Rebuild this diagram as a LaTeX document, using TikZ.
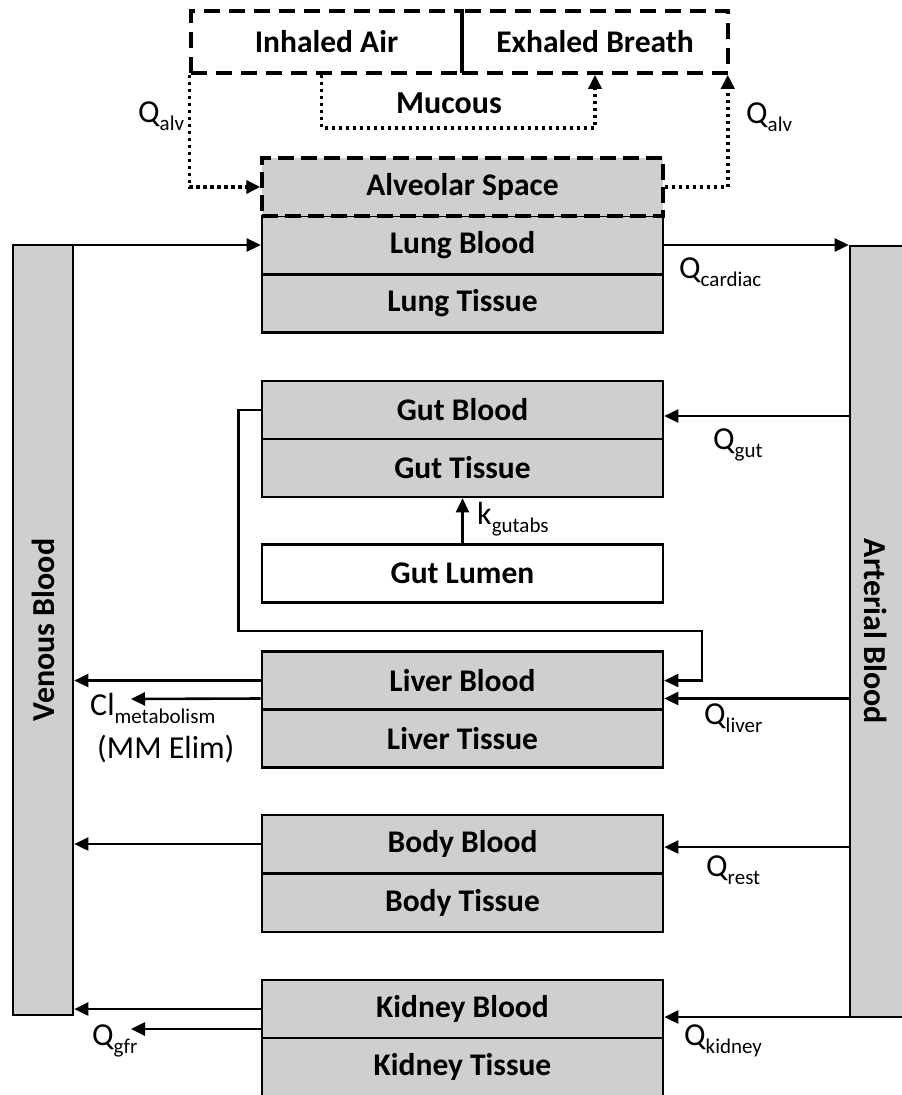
\documentclass[tikz,border=0pt]{standalone}
\usepackage{fontspec}
\setmainfont{Carlito}
\usetikzlibrary{arrows.meta}
\definecolor{boxgray}{RGB}{208,206,206}
\newcommand{\lowsub}[1]{\raisebox{-8pt}{\fontsize{21}{21}\selectfont #1}}

\begin{document}
\begin{tikzpicture}[x=1pt,y=-1pt,
    comp/.style={draw=black,line width=2.6pt,fill=boxgray,minimum width=401pt,minimum height=58pt,inner sep=0pt,font=\fontsize{31.5}{36}\selectfont\bfseries},
    lumen/.style={comp,fill=white},
    airbox/.style={draw=black,line width=3.5pt,dash pattern=on 16pt off 9pt,minimum height=62pt,inner sep=0pt,font=\fontsize{31.5}{36}\selectfont\bfseries},
    pool/.style={draw=black,line width=2.6pt,fill=boxgray,minimum width=60pt,inner sep=0pt},
    poollabel/.style={font=\fontsize{32}{36}\selectfont\bfseries,inner sep=0pt},
    flow/.style={line width=2.6pt,-{Triangle[length=14pt,width=13pt]}},
    airflow/.style={line width=3.5pt,dash pattern=on 3.5pt off 3.5pt,-{Triangle[length=14pt,width=13pt]}},
    lab/.style={font=\fontsize{32}{36}\selectfont,inner sep=0pt,anchor=base west}]
  \useasboundingbox (0,0) rectangle (902,1095);

  \node[airbox,minimum width=271pt] (inhaled) at (326.5,42) {Inhaled Air};
  \node[airbox,minimum width=266pt] (exhaled) at (595,42) {Exhaled Breath};

  \node[pool,minimum height=770pt] (venous) at (43,630) {};
  \node[poollabel,rotate=90] (venouslabel) at (43,630) {Venous Blood};
  \node[pool,minimum height=771pt] (arterial) at (880,631.5) {};
  \node[poollabel,rotate=-90] (arteriallabel) at (876,631.5) {Arterial Blood};

  \node[comp] (lungblood) at (462.5,245) {Lung Blood};
  \node[comp] (lungtissue) at (462.5,303.5) {Lung Tissue};
  \node[comp,draw=black,dash pattern=on 16pt off 7pt,line width=3.5pt] (alveolar) at (462.5,187) {Alveolar Space};
  \node[comp] (gutblood) at (462.5,410) {Gut Blood};
  \node[comp] (guttissue) at (462.5,468) {Gut Tissue};
  \node[lumen] (gutlumen) at (462.5,573.5) {Gut Lumen};
  \node[comp] (liverblood) at (462.5,680.5) {Liver Blood};
  \node[comp] (livertissue) at (462.5,738.5) {Liver Tissue};
  \node[comp] (bodyblood) at (462.5,844) {Body Blood};
  \node[comp] (bodytissue) at (462.5,903) {Body Tissue};
  \node[comp] (kidneyblood) at (462.5,1009) {Kidney Blood};
  \node[comp] (kidneytissue) at (462.5,1067) {Kidney Tissue};

  \draw[airflow] (inhaled.south west) |- (alveolar.west);
  \draw[airflow] (alveolar.east) -| ([xshift=-2pt]exhaled.south east);
  \draw[airflow] ([xshift=-5pt]inhaled.south) -- ++(0,53) -| (exhaled.south);
  \node[lab,anchor=base] (mucous) at (449,113) {\bfseries Mucous};
  \node[lab] (qalvin) at (138,122) {Q\lowsub{alv}};
  \node[lab] (qalvout) at (746,123) {Q\lowsub{alv}};

  \draw[flow] (lungblood.west -| venous.east) -- (lungblood.west);
  \draw[flow] (lungblood.east) -- (lungblood.east -| arterial.west);
  \node[lab] (qcardiac) at (679,278) {Q\lowsub{cardiac}};

  \draw[flow] ([yshift=-6pt]gutblood.east -| arterial.west) -- ([yshift=-6pt]gutblood.east);
  \node[lab] (qgut) at (713,449) {Q\lowsub{gut}};
  \draw[flow] (gutlumen.north) -- (guttissue.south);
  \node[lab] (kgutabs) at (477,524) {k\lowsub{gutabs}};
  \coordinate (gutbend) at (702,631);
  \draw[flow] (gutblood.west) -- ++(-22,0) |- (gutbend) |- (liverblood.east);

  \draw[flow] ([yshift=-18pt]liverblood.east -| arterial.west) -- ([yshift=-18pt]liverblood.east);
  \node[lab] (qliver) at (704,724) {Q\lowsub{liver}};
  \draw[flow] (liverblood.west) -- (liverblood.west -| venous.east);
  \coordinate (clend) at (131,699);
  \draw[flow] ([yshift=-18pt]liverblood.west) -- (clend);
  \node[lab] (clmet) at (90,715) {Cl\lowsub{metabolism}};
  \node[lab] (mmelim) at (97,758) {(MM Elim)};

  \draw[flow] ([yshift=-3pt]bodyblood.east -| arterial.west) -- ([yshift=-3pt]bodyblood.east);
  \node[lab] (qrest) at (706,876) {Q\lowsub{rest}};
  \draw[flow] (bodyblood.west) -- (bodyblood.west -| venous.east);

  \draw[flow] ([yshift=-8pt]kidneyblood.east -| arterial.west) -- ([yshift=-8pt]kidneyblood.east);
  \node[lab] (qkidney) at (684,1045) {Q\lowsub{kidney}};
  \draw[flow] (kidneyblood.west) -- (kidneyblood.west -| venous.east);
  \coordinate (gfrend) at (131,1029);
  \draw[flow] ([yshift=-20pt]kidneyblood.west) -- (gfrend);
  \node[lab] (qgfr) at (92,1045) {Q\lowsub{gfr}};
\end{tikzpicture}
\end{document}
